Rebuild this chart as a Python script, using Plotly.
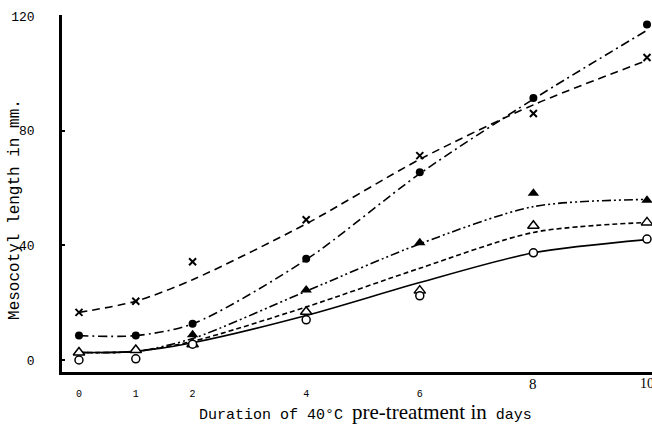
import plotly.graph_objects as go

# ---- data ----
days = [0, 1, 2, 4, 6, 8, 10]

# measured points (mm)
cross_pts = [16.6, 20.5, 34.3, 48.9, 71.3, 86.0, 105.5]
fcirc_pts = [8.5, 8.5, 12.6, 35.3, 65.5, 91.4, 117.0]
ftri_pts = [2.6, 3.5, 8.8, 24.4, 40.9, 58.2, 55.7]
otri_pts = [2.6, 3.5, 5.5, 16.8, 24.2, 46.8, 48.0]
ocirc_pts = [0.0, 0.4, 5.5, 14.0, 22.4, 37.4, 42.2]

# hand-drawn smooth curves, read at each day (mm)
cross_curve = [16.6, 20.5, 28.0, 47.5, 70.0, 89.0, 104.5]
fcirc_curve = [8.5, 8.5, 12.6, 35.0, 65.0, 91.0, 115.0]
ftri_curve = [2.6, 3.0, 7.5, 24.0, 40.5, 53.5, 56.0]
otri_curve = [2.6, 3.0, 6.5, 18.5, 32.0, 44.5, 48.0]
ocirc_curve = [2.6, 3.0, 6.0, 15.5, 27.0, 37.4, 42.0]

small_ticks = [0, 1, 2, 4, 6]
small_tick_text = ["0", "1", "2", "4", "6"]
big_ticks = [8, 10]
big_tick_text = ["8", "10"]
y_ticks = [0, 40, 80, 120]
y_tick_text = ["0", "40", "80", "120"]

fig = go.Figure()

curves = [
    (cross_curve, "8px,5px"),
    (fcirc_curve, "9px,4px,2px,4px"),
    (ftri_curve, "9px,3px,2px,3px,2px,3px"),
    (otri_curve, "5px,3px"),
    (ocirc_curve, "solid"),
]
for vals, dash in curves:
    fig.add_trace(go.Scatter(
        x=days, y=vals, mode="lines",
        line=dict(color="black", width=1.6, dash=dash, shape="spline", smoothing=0.8),
        showlegend=False, hoverinfo="skip"))

fig.add_trace(go.Scatter(x=days, y=cross_pts, mode="markers",
    marker=dict(symbol="x-thin", size=7, line=dict(color="black", width=2)),
    showlegend=False))
fig.add_trace(go.Scatter(x=days, y=fcirc_pts, mode="markers",
    marker=dict(symbol="circle", size=8, color="black"), showlegend=False))
fig.add_trace(go.Scatter(x=days, y=ftri_pts, mode="markers",
    marker=dict(symbol="triangle-up", size=10, color="black"), showlegend=False))
fig.add_trace(go.Scatter(x=days, y=otri_pts, mode="markers",
    marker=dict(symbol="triangle-up", size=10, color="white",
                line=dict(color="black", width=1.5)), showlegend=False))
fig.add_trace(go.Scatter(x=days, y=ocirc_pts, mode="markers",
    marker=dict(symbol="circle", size=8, color="white",
                line=dict(color="black", width=1.5)), showlegend=False))

# larger tick labels for 8 and 10, placed on the x scale
big_tick_ann = [
    dict(text=t, xref="x", yref="paper", x=v, y=-0.005, showarrow=False,
         xanchor="center", yanchor="top",
         font=dict(family="Liberation Serif", size=15 if t == "8" else 14, color="black"))
    for v, t in zip(big_ticks, big_tick_text)
]

xr = [-0.299, 10.088]
fig.update_layout(
    width=652, height=424,
    margin=dict(l=62, r=0, t=15, b=52, autoexpand=False),
    plot_bgcolor="white", paper_bgcolor="white",
    xaxis=dict(range=xr, showgrid=False, zeroline=False,
               showline=True, linecolor="black", linewidth=3,
               tickmode="array", tickvals=small_ticks, ticktext=small_tick_text,
               ticks="", ticklabelstandoff=10,
               tickfont=dict(family="Liberation Mono", size=10, color="black")),
    yaxis=dict(range=[-4.19, 120.35], showgrid=False, zeroline=False,
               showline=True, linecolor="black", linewidth=2.5,
               tickmode="array", tickvals=y_ticks, ticktext=y_tick_text,
               ticks="inside", ticklen=3, tickwidth=2, tickcolor="black",
               ticklabelstandoff=22,
               tickfont=dict(family="Liberation Mono", size=13, color="black")),
    annotations=[
        dict(text="Mesocotyl length in mm.", xref="paper", yref="paper",
             x=-0.0797, y=0.4566, textangle=-90, showarrow=False,
             xanchor="center", yanchor="middle",
             font=dict(family="Liberation Mono", size=16, color="black")),
        dict(text="Duration of 40°C <span style='font-family:Liberation Serif;font-size:21px'>pre-treatment in</span> days",
             xref="paper", yref="paper", x=0.515, y=-0.112, showarrow=False,
             xanchor="center", yanchor="middle",
             font=dict(family="Liberation Mono", size=15, color="black")),
    ] + big_tick_ann,
)

fig.write_html("out.html", config={"displayModeBar": False},
               post_script="document.body.style.margin='0';document.body.style.overflow='hidden';")
